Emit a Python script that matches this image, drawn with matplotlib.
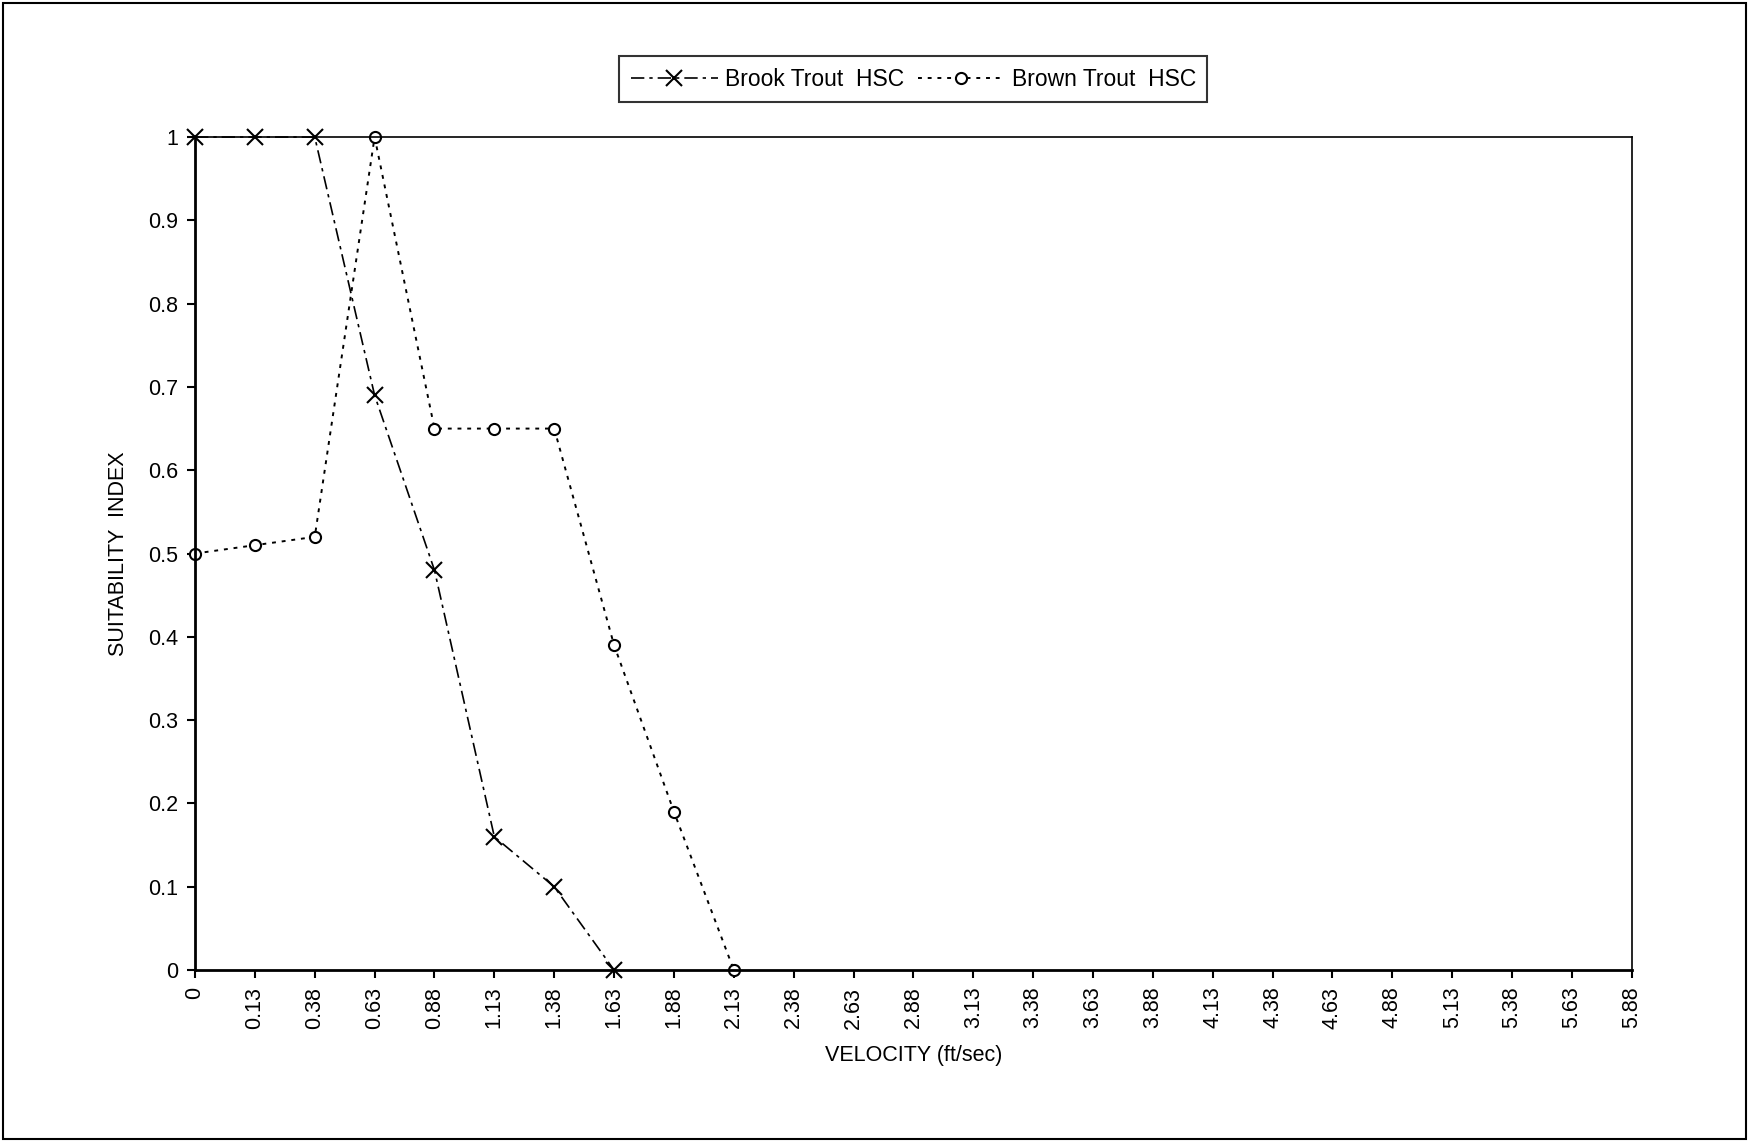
import matplotlib
matplotlib.use('Agg')
import matplotlib.pyplot as plt
from matplotlib.patches import Rectangle

plt.rcParams['font.family'] = ['Liberation Sans', 'DejaVu Sans']

# category axis (Excel style, equally spaced)
velocity = ['0', '0.13', '0.38', '0.63', '0.88', '1.13', '1.38', '1.63', '1.88',
            '2.13', '2.38', '2.63', '2.88', '3.13', '3.38', '3.63', '3.88', '4.13',
            '4.38', '4.63', '4.88', '5.13', '5.38', '5.63', '5.88']
brook = [1, 1, 1, 0.69, 0.48, 0.16, 0.10, 0]
brown = [0.50, 0.51, 0.52, 1, 0.65, 0.65, 0.65, 0.39, 0.19, 0]

fs = 15.5

fig = plt.figure(figsize=(17.49, 11.42), dpi=100)
fig.patches.append(Rectangle((0.002, 0.003), 0.996, 0.994, transform=fig.transFigure,
                             fill=False, edgecolor='black', linewidth=1.5))
ax = fig.add_axes([0.1115, 0.1506, 0.8215, 0.7294])

ax.plot(range(len(brook)), brook, color='black', linestyle=(0, (8, 3, 2, 3)), linewidth=1.2,
        marker='x', markersize=11, markeredgewidth=1.5, label='Brook Trout  HSC', clip_on=False)
ax.plot(range(len(brown)), brown, color='black', linestyle=(0, (2, 3)), linewidth=1.4,
        marker='o', markersize=8, markerfacecolor='white', markeredgewidth=1.5,
        label='Brown Trout  HSC', clip_on=False)

ax.set_xlim(0, len(velocity) - 1)
ax.set_ylim(0, 1)
ax.set_xticks(range(len(velocity)))
ax.set_xticklabels(velocity, rotation=90, fontsize=fs)
ax.set_yticks([0, 0.1, 0.2, 0.3, 0.4, 0.5, 0.6, 0.7, 0.8, 0.9, 1])
ax.set_yticklabels(['0', '0.1', '0.2', '0.3', '0.4', '0.5', '0.6', '0.7', '0.8', '0.9', '1'],
                   fontsize=fs)
ax.tick_params(direction='out', length=6, width=1.5, pad=6)
for s in ['left', 'bottom']:
    ax.spines[s].set_linewidth(2)
for s in ['top', 'right']:
    ax.spines[s].set_linewidth(1.2)

ax.set_xlabel('VELOCITY (ft/sec)', fontsize=fs, labelpad=12)
ax.set_ylabel('SUITABILITY  INDEX', fontsize=fs, labelpad=14)

leg = ax.legend(loc='lower center', bbox_to_anchor=(0.5, 1.028), ncol=2, frameon=True,
                fancybox=False, edgecolor='black', fontsize=16.5, handlelength=3.8,
                handletextpad=0.3, columnspacing=0.6, borderpad=0.5)
leg.get_frame().set_linewidth(1.5)

fig.savefig('out.png', dpi=100)
